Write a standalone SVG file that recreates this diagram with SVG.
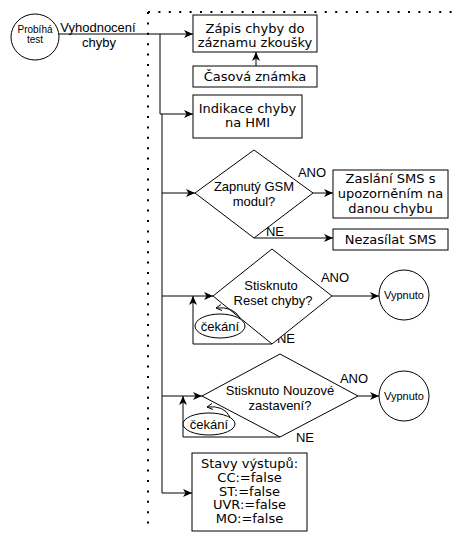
<svg xmlns="http://www.w3.org/2000/svg" width="454" height="534" viewBox="0 0 454 534">
<defs>
<marker id="arr" markerUnits="userSpaceOnUse" markerWidth="10" markerHeight="8" refX="9" refY="4" orient="auto">
<path d="M0,0 L9,4 L0,8 L2.5,4 z" fill="#000"/>
</marker>
<style>
.ln{fill:none;stroke:#000;stroke-width:1}
.ar{fill:none;stroke:#000;stroke-width:1;marker-end:url(#arr)}
.bx{fill:#fff;stroke:#000;stroke-width:1}
.dot{fill:none;stroke:#000;stroke-width:2;stroke-dasharray:2 8.4}
.v{font-family:"DejaVu Sans",Verdana,sans-serif;font-size:13px;fill:#000;text-anchor:middle}
.a{font-family:"Liberation Sans",Arial,sans-serif;font-size:13px;fill:#000;text-anchor:middle}
.s{font-family:"Liberation Sans",Arial,sans-serif;font-size:10px;fill:#000;text-anchor:middle}
.m{font-family:"Liberation Sans",Arial,sans-serif;font-size:11px;fill:#000;text-anchor:middle}
</style>
</defs>
<rect width="454" height="534" fill="#fff"/>
<g id="boundary">
<path class="dot" d="M148,12 H452"/>
<path class="dot" d="M148,12 V532"/>
</g>
<g id="connectors">
<path class="ar" d="M59,34 H193"/>
<path class="ln" d="M160,34 V114"/>
<path class="ar" d="M160,114 H193"/>
<path class="ar" d="M162,114 V493 H192"/>
<path class="ar" d="M162,193 H195"/>
<path class="ar" d="M162,296 H213"/>
<path class="ar" d="M162,396 H202"/>
<path class="ar" d="M256,66 V52"/>
<path class="ar" d="M313,193 H333"/>
<path class="ar" d="M254,238 H333"/>
<path class="ar" d="M332,296 H379"/>
<path class="ar" d="M358,396 H379"/>
<path class="ar" d="M272,344 H193 V296"/>
<path class="ar" d="M280,437 H183 V396"/>
<text class="a" x="98" y="32">Vyhodnocení</text>
<text class="a" x="99" y="47">chyby</text>
<text class="a" x="312" y="177">ANO</text>
<text class="a" x="275" y="236">NE</text>
<text class="a" x="335" y="282">ANO</text>
<text class="a" x="286" y="343">NE</text>
<text class="a" x="354" y="383">ANO</text>
<text class="a" x="305" y="442">NE</text>
</g>
<g id="start">
<ellipse class="bx" cx="35" cy="37" rx="24" ry="23"/>
<text class="s" x="35" y="33">Probíhá</text>
<text class="s" x="35" y="43">test</text>
</g>
<g id="zapis">
<rect class="bx" x="193" y="15" width="124" height="37"/>
<text class="v" x="255" y="33">Zápis chyby do</text>
<text class="v" x="255" y="47">záznamu zkoušky</text>
</g>
<g id="casova">
<rect class="bx" x="193" y="66" width="124" height="21"/>
<text class="v" x="255" y="81">Časová známka</text>
</g>
<g id="indikace">
<rect class="bx" x="193" y="95" width="109" height="43"/>
<text class="v" x="247.5" y="113">Indikace chyby</text>
<text class="v" x="247.5" y="127">na HMI</text>
</g>
<g id="gsm">
<polygon class="bx" points="195,193 254,150 313,193 254,238"/>
<text class="a" x="254" y="191">Zapnutý GSM</text>
<text class="a" x="254" y="206">modul?</text>
</g>
<g id="sms">
<rect class="bx" x="333" y="170" width="115" height="48"/>
<text class="v" x="390.5" y="183">Zaslání SMS s</text>
<text class="v" x="390.5" y="198">upozorněním na</text>
<text class="v" x="390.5" y="213">danou chybu</text>
</g>
<g id="nezasilat">
<rect class="bx" x="333" y="229" width="115" height="21"/>
<text class="v" x="390.5" y="244">Nezasílat SMS</text>
</g>
<g id="reset">
<polygon class="bx" points="213,296 272,249 332,296 272,344"/>
<text class="a" x="271" y="290">Stisknuto</text>
<text class="a" x="273" y="305">Reset chyby?</text>
</g>
<g id="vypnuto1">
<circle class="bx" cx="404" cy="295" r="25"/>
<text class="m" x="404" y="299">Vypnuto</text>
</g>
<g id="cekani1">
<ellipse class="bx" cx="220" cy="326" rx="25" ry="12"/>
<path class="ln" d="M240,318 Q233,306 216,308"/>
<path class="ln" d="M221,304.5 L216,308 L222,310.5"/>
<text class="a" x="220" y="331">čekání</text>
</g>
<g id="nouzove">
<polygon class="bx" points="202,396 280,354 358,396 280,437"/>
<text class="a" x="280" y="395">Stisknuto Nouzové</text>
<text class="a" x="280" y="410">zastavení?</text>
</g>
<g id="vypnuto2">
<circle class="bx" cx="404" cy="396" r="25"/>
<text class="m" x="404" y="400">Vypnuto</text>
</g>
<g id="cekani2">
<ellipse class="bx" cx="209" cy="424" rx="26" ry="11"/>
<path class="ln" d="M230,417 Q224,405 207,407"/>
<path class="ln" d="M212,403.5 L207,407 L213,409.5"/>
<text class="a" x="209" y="429">čekání</text>
</g>
<g id="stavy">
<rect class="bx" x="192" y="453" width="115" height="78"/>
<text class="v" x="249.5" y="468">Stavy výstupů:</text>
<text class="v" x="249.5" y="482">CC:=false</text>
<text class="v" x="249.5" y="495.5">ST:=false</text>
<text class="v" x="249.5" y="509">UVR:=false</text>
<text class="v" x="249.5" y="522.5">MO:=false</text>
</g>
</svg>
